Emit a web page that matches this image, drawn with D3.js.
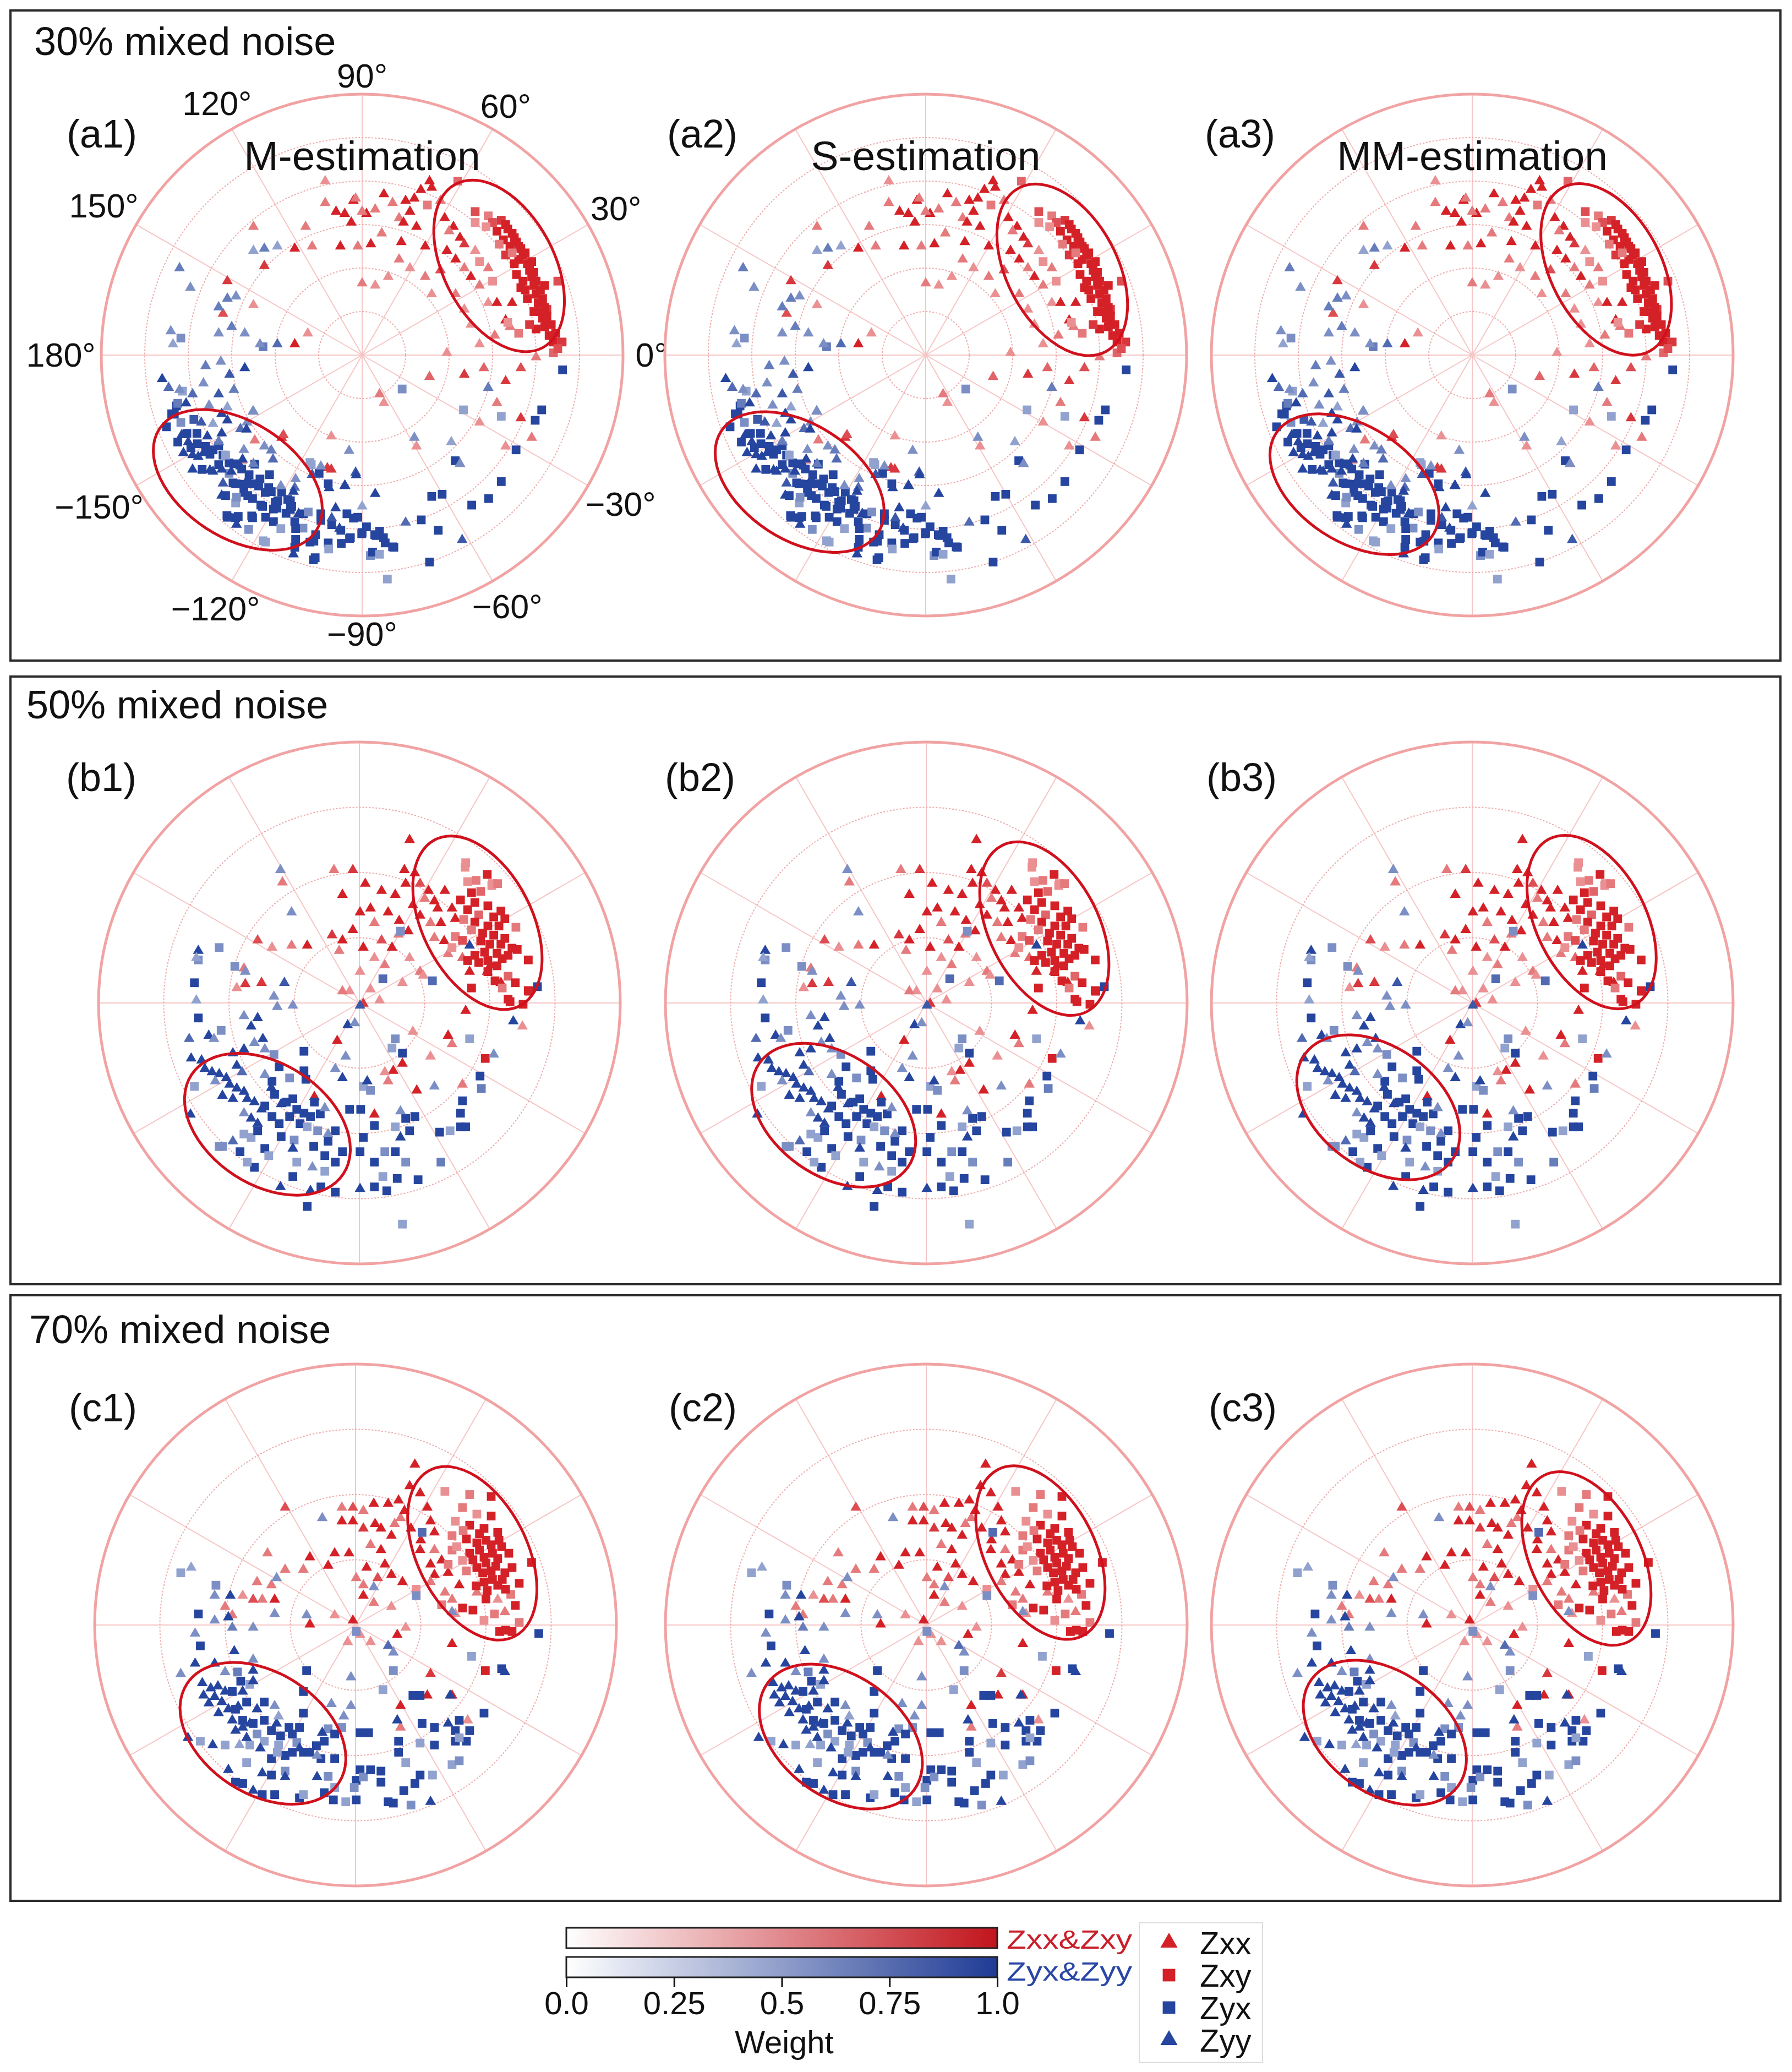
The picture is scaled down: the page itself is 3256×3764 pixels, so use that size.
<!DOCTYPE html>
<html><head><meta charset="utf-8">
<script src="https://cdn.jsdelivr.net/npm/d3@7"></script>
<style>html,body{margin:0;padding:0;background:#fff}</style>
</head><body>
<svg id="c" width="3256" height="3764" xmlns="http://www.w3.org/2000/svg"></svg>
<script>
// ---------------- DATA ----------------
const rowLabels = ["30% mixed noise", "50% mixed noise", "70% mixed noise"];
const methodTitles = ["M-estimation", "S-estimation", "MM-estimation"];
const panelIds = [["(a1)", "(a2)", "(a3)"], ["(b1)", "(b2)", "(b3)"], ["(c1)", "(c2)", "(c3)"]];
const angleTicks = [0, 30, 60, 90, 120, 150, 180, -150, -120, -90, -60, -30];
const ringCounts = [6, 4, 4];
const weightTicks = [0, 0.25, 0.5, 0.75, 1];
const weightTickLabels = ["0.0", "0.25", "0.5", "0.75", "1.0"];
const componentNames = ["Zxx", "Zxy", "Zyx", "Zyy"];
const colorbarLabels = ["Zxx&Zxy", "Zyx&Zyy"];

// points: [Re, Im, weight]  (ring units)
// ---- 30% noise ----
const zxxA = [[1.9,3.15,1],[2.1,2.95,1],[2.25,2.7,1],[2.35,2.55,.9],[1.95,2.4,1],[2.15,2.2,1],[2.35,2.0,.6],[1.8,1.95,.8],[2.5,1.8,1],[2.7,1.6,.6],[2.9,1.2,.5],[3.3,0.8,1],[3.1,1.2,1],[3.45,1.2,1],[2.35,1.05,.5],[2.15,1.4,.6],[2.7,0.25,.5],[3.4,0.65,.6],[1.45,1.8,.6],[1.6,1.4,.5],[4.25,0.8,1],[4.2,1.0,1],
[1.55,4.0,1],[1.6,3.85,1],[1.35,3.8,1],[1.0,3.55,1],[1.1,3.3,1],[0.85,3.15,.6],[0.95,3.05,1],[0.5,3.7,1],[0.3,3.35,.6],[0.1,3.25,1],[-0.2,3.55,1],[-0.4,3.25,1],[-0.25,3.05,1],[-0.85,3.5,.6],[-0.85,4.0,.5],[-1.3,2.95,.6],[-1.55,2.45,1],[-1.15,2.5,.6],[-0.5,2.5,1],[-0.1,2.5,.6],[0.2,2.55,1],[0.45,2.8,.6],[0.9,2.6,1],[1.25,2.95,1],[1.45,2.5,1],[0.85,2.2,.6],[1.1,2.0,.5],[0.6,1.8,.5],[0.3,1.6,.5],[0,1.65,.6],[-1.25,0.5,.5],[-1.55,0.25,1],[0.7,3.5,.6],[1.2,3.6,1],[1.8,3.55,.6],[-0.6,3.3,1],[0.0,3.3,.6],[-0.15,3.6,.6],
[1.95,0.05,.5],[1.55,-0.5,.7],[2.35,-0.45,.9],[2.8,-0.3,.7],[3.3,-0.6,.9],[3.65,-0.3,.8],[4.0,-0.05,.6],[3.1,-1.1,.6],[3.65,-1.45,.9],[3.9,-1.9,.6],[3.3,-2.1,.5],[2.7,-1.55,.5],[2.25,-2.5,.6],[1.25,-2.1,.5],[0.4,-0.9,.6],[0.5,-1.1,.5],[-0.8,-2.6,.9],[-1.85,-1.9,.9],[-2.5,2.95,.6],[-3.1,1.7,.9],[-3.2,0.95,.8],[-2.25,2.05,.9],[-2.5,1.15,.5],
[-2.47,-1.96,.6],[-1.81,-1.84,.8],[-0.71,-1.87,.5],[-0.71,-2.63,.9],[-2.76,-2.43,.5],[2.0,2.85,.6],[2.6,2.4,.5],[2.9,2.0,.6],[3.05,0.45,.6],[2.5,0.7,.5]];
const zxyA = [[2.2,4.0,.7],[1.5,3.45,.6],[2.6,3.3,.8],[2.9,3.2,.6],[3.2,3.1,.9],[3.3,3.0,1],[3.45,2.8,1],[3.55,2.6,1],[3.65,2.45,1],[3.7,2.3,1],[3.8,2.1,1],[3.85,1.95,1],[3.9,1.8,1],[3.95,1.6,1],[4.0,1.4,1],[4.05,1.2,1],[4.1,1.0,1],[4.15,0.85,1],[4.2,0.65,1],[4.3,0.45,1],[4.4,0.3,1],[4.6,0.3,.9],[4.5,1.7,.8],[3.3,2.3,.9],[3.5,2.1,1],[3.7,1.7,1],[3.8,1.3,1],[3.95,1.0,1],[3.6,2.2,1],[3.4,2.5,1],[3.1,2.85,1],[2.7,2.15,.5],[3.0,1.7,.5],[3.6,0.5,.6],[4.0,0.6,1],[4.4,0.05,.7],[3.0,3.05,.8],[3.25,2.65,1],[3.75,1.5,1],[4.25,1.05,.9],[3.35,0.75,.5],[4.2,1.6,1],
[3.35,2.9,1],[3.5,2.7,1],[3.6,2.5,1],[3.75,2.35,1],[3.9,2.15,1],[3.95,1.9,1],[4.0,1.7,1],[4.1,1.5,1],[4.15,1.3,1],[4.2,1.1,1],[4.25,0.9,1],[4.35,0.7,1],[3.55,1.85,1],[3.65,1.55,1],[3.85,0.7,.9],[3.45,2.35,.6],[3.15,2.55,.6],[2.85,2.95,.5],[2.6,3.05,.5],[4.45,0.5,1],[4.5,0.15,.8]];
const zyxA = [[-4.32,-1.36,1],[-4.17,-1.55,.6],[-4.27,-1.17,1],[-4.03,-1.8,1],[-3.79,-2.04,1],[-3.5,-2.28,1],[-3.3,-2.52,1],[-3.06,-2.72,.6],[-2.91,-2.96,1],[-2.72,-3.16,1],[-2.52,-3.3,1],[-2.33,-3.45,1],[-2.04,-3.54,1],[-1.75,-3.64,1],[-1.55,-3.83,1],[-1.36,-3.98,.6],[-1.07,-4.13,1],[-1.12,-4.71,1],[-1.55,-4.42,1],[-0.78,-4.32,1],[-0.49,-4.03,1],[-0.29,-4.22,1],[0,-4.08,1],[0.29,-4.13,1],[0.53,-4.32,1],[0.73,-4.42,1],[0.19,-4.61,.6],[0.58,-5.15,.5],[1.55,-4.76,1],[1.75,-4.03,1],[1.36,-3.79,1],[1.6,-3.25,1],[1.84,-3.2,1],[2.52,-3.45,1],[2.91,-3.3,1],[3.2,-2.91,1],[3.54,-2.18,1],[3.98,-1.5,1],[4.13,-1.26,1],[4.61,-0.34,1],[2.14,-2.43,1],[2.33,-1.26,.5],[3.2,-1.41,.5],[0.92,-0.78,.6],[-2.28,0.19,.7],[-4.17,0.39,.6],[-4.13,-0.83,.5],[-3.3,-2.09,1],[-3.06,-2.48,1],[-2.77,-2.62,1],[-2.52,-2.96,1],[-2.23,-3.16,1],[-1.94,-3.35,1],[-2.52,-3.74,1],[-2.91,-3.74,1],[-3.11,-3.69,1],[-2.28,-4.27,.5],[-2.91,-3.4,.5],[-1.17,-2.52,.5],[-0.78,-2.96,1],[-1.65,-3.35,1],[-2.04,-3.83,1],[-3.8,-1.8,1],[-3.6,-2.1,1],[-3.2,-2.3,1],[-2.9,-2.5,1],[-2.6,-2.75,1],[-2.35,-2.85,1],[-2.15,-3.05,1],[-1.85,-3.15,1],[-1.65,-3.55,1],[-1.35,-3.65,1],[-1.2,-4.3,1],[-0.95,-3.8,1],[-0.2,-3.75,1],[0.1,-3.95,1],[0.4,-4.05,1],
[-4.24,-1.11,.7],[-4.38,-1.35,1],[-4.5,-1.65,1],[-3.87,-1.48,.9],[-4.24,-2.0,1],[-3.94,-2.13,1],[-3.43,-2.18,1],[-3.68,-2.63,1],[-3.14,-2.3,.5],[-2.47,-2.51,1],[-2.13,-2.75,1],[-2.97,-2.94,1],[-2.72,-2.97,1],[-2.38,-3.01,1],[-2.09,-3.14,1],[-3.14,-3.23,1],[-2.89,-3.27,.6],[-2.63,-3.23,1],[-2.29,-3.48,1],[-2.0,-3.39,1],[-1.71,-3.32,1],[-1.62,-3.48,1],[-3.1,-3.73,1],[-2.85,-3.71,1],[-2.54,-3.7,1],[-2.22,-3.73,1],[-1.96,-3.52,1],[-1.87,-3.99,.5],[-2.61,-4.01,.6],[-2.22,-4.3,.5],[-1.53,-3.99,1],[-1.53,-4.24,1],[-1.24,-3.61,.6],[-0.99,-2.72,1],[-1.2,-2.47,.5],[-0.95,-3.65,1],[-0.7,-3.9,1],[-0.35,-3.65,1],[-0.1,-3.73,1],[-0.27,-4.2,1],[-0.01,-4.11,1],[-0.48,-4.33,1],[-1.11,-4.28,1],[-1.08,-4.66,1],[-0.77,-4.46,.5],[0.32,-4.15,1],[0.49,-4.2,1],[0.24,-4.53,1],[0.4,-4.58,.5],[0.7,-4.41,1]];
const zyyA = [[-4.6,-0.55,1],[-4.45,-0.75,.8],[-4.2,-0.8,.6],[-3.9,-0.9,.8],[-3.65,-0.65,.6],[-3.3,-0.9,.9],[-3.05,-0.45,.9],[-2.95,-0.8,.7],[-3.1,-1.5,1],[-2.8,-1.7,.8],[-2.65,-1.55,.6],[-3.7,-1.55,.9],[-4.0,-2.0,1],[-3.9,-2.3,1],[-3.3,-2.0,.9],[-3.5,-2.65,1],[-3.2,-2.95,.9],[-2.75,-2.4,1],[-2.5,-2.5,.7],[-2.25,-2.1,.6],[-2.05,-2.4,.8],[-1.55,-3.05,.8],[-1.15,-2.75,.9],[-0.4,-3.0,1],[-0.15,-2.7,.9],[-0.7,-3.75,.9],[1.0,-3.85,.8],[1.2,-1.9,.6],[2.05,-2.0,.5],[2.9,-0.75,.7],[2.3,-4.25,.9],[2.25,-2.5,.6],
[-4.2,2.0,.7],[-3.95,1.55,.6],[-3.3,1.1,.7],[-3.1,1.3,.7],[-2.9,1.35,.6],[-3.0,0.65,.7],[-2.7,0.5,.6],[-3.6,-0.25,.7],[-3.25,-0.15,.6],[-2.5,2.4,.5],[-2.25,2.45,.7],[-1.95,2.5,.5],[-2.35,0.25,.6],[-1.95,0.25,.8],[-4.4,0.55,.6],[-4.35,0.25,.5],[-3.3,0.5,.6],[-2.7,-0.3,1],[-2.5,-1.3,.7],[-0.3,-2.2,.6],
[-4.05,-1.11,1],[-3.52,-1.16,.6],[-3.1,-1.2,.5],[-2.51,-1.29,.6],[-3.23,-1.35,1],[-3.43,-1.58,.5],[-3.23,-1.8,1],[-2.66,-1.71,1],[-4.15,-1.84,1],[-3.56,-1.87,1],[-3.3,-1.99,.7],[-4.11,-2.25,1],[-3.77,-2.34,1],[-3.65,-2.25,1],[-2.72,-2.18,.6],[-2.09,-2.19,.7],[-3.9,-2.63,1],[-3.43,-2.68,1],[-3.23,-2.63,1],[-3.01,-2.68,1],[-2.8,-2.56,1],[-2.63,-2.85,1],[-3.23,-3.23,1],[-1.87,-3.01,.6],[-1.53,-2.85,.6],[-1.58,-3.14,1],[-1.46,-3.65,1],[-2.89,-3.9,1],[-0.76,-3.06,1],[-0.39,-3.01,1],[-0.14,-2.76,1],[0.3,-3.19,1],[-0.61,-3.52,1],[0,-3.48,.5],[-1.58,-4.58,1],[-0.52,-3.99,1],[-0.95,-2.56,.6]];

// ---- 50% noise ----
const zxxB = [[0.77,2.5,1],[0.69,2.04,1],[0.85,1.99,1],[0.71,1.83,1],[0.93,1.83,.8],[1.06,1.72,1],[1.31,1.72,1],[1.15,1.56,1],[0.82,1.5,1],[0.55,1.66,1],[0.34,1.72,1],[0.09,1.83,1],[-0.1,2.04,.9],[-0.39,2.04,.6],[-0.26,1.66,1],[0.01,1.39,1],[0.17,1.45,1],[0.44,1.39,1],[0.23,1.23,.6],[0.61,1.26,1],[0.93,1.34,1],[1.09,1.23,.6],[1.25,1.23,1],[1.42,1.45,1],[1.47,1.29,1],[1.36,0.75,.6],[1.58,0.69,.7],[1.69,0.48,1],[1.96,0.48,1],[2.17,0.31,1],[2.01,0.58,1],[-0.1,1.12,1],[-0.26,0.96,1],[0.06,0.85,1],[-0.31,0.8,.6],[0.34,0.96,.8],[0.5,0.85,1],[0.23,0.69,.5],[0.39,0.58,.6],[0.77,0.69,.5],[0.93,0.48,.6],[0.01,0.48,.5],[0.17,0.21,.5],[-0.15,0.18,.5],[-0.26,0.18,.6],[0.06,-0.01,.9],[0.31,0.04,.5],[0.66,0.31,.5],[0.98,0.42,.5],[-0.8,0.88,1],[-1.04,0.88,.6],[-1.34,0.85,.5],[-1.56,0.96,.8],[-1.18,1.85,.6],[-0.42,1.04,.9],[-1.77,0.53,.6],[-1.5,0.31,.9],[-1.75,0.29,.9],[-1.88,0.23,.5],[1.63,-0.12,1],[2.5,-0.36,.5],[1.36,-0.5,1],[1.42,-0.63,.6],[1.09,-0.82,.5],[0.82,-0.44,.5],[0.66,-0.93,1],[0.52,-1.04,1],[0.39,-1.06,.5],[0.44,-1.2,.6],[0.88,-1.34,1],[1.58,-1.25,.6],[-0.34,-0.58,1],[0.23,-1.71,1],[-0.69,-1.44,1],[1.2,1.45,1],[1.0,1.6,.6],[0.75,1.1,1],[1.15,1.0,.6],[1.3,0.95,1],[0.6,1.05,.6]];
const zxyB = [[1.62,2.08,.5],[1.96,1.97,1],[1.66,1.86,.5],[2.03,1.8,.5],[1.72,1.69,1],[1.86,1.71,.7],[1.55,1.58,1],[1.77,1.54,1],[1.97,1.49,1],[2.17,1.41,1],[1.66,1.43,1],[1.83,1.35,.7],[2.06,1.32,1],[2.23,1.29,1],[1.6,1.28,.6],[1.77,1.24,1],[1.97,1.18,1],[2.14,1.18,1],[2.4,1.16,.6],[1.72,1.12,.6],[1.89,1.07,1],[2.06,1.04,1],[2.23,0.99,1],[1.86,0.95,1],[2.0,0.9,1],[2.17,0.9,1],[2.34,0.84,1],[2.42,0.82,1],[1.92,0.78,1],[2.11,0.76,1],[2.28,0.73,1],[1.77,0.73,1],[1.66,0.65,1],[1.83,0.62,1],[1.97,0.65,1],[2.19,0.68,1],[2.59,0.66,1],[2.11,0.57,1],[1.97,0.48,1],[2.28,0.41,.7],[2.08,0.34,1],[2.19,0.23,.6],[2.59,0.19,1],[1.72,0.23,1],[2.28,0.06,1],[2.51,-0.02,1],
[1.63,2.15,.5],[1.79,1.88,.6],[2.04,1.83,.5],[1.47,1.02,.6],[1.42,0.85,.5],[1.58,0.96,.8],[2.12,1.83,.6],[1.93,-0.85,1],[2.39,0.31,1],[2.6,0.18,1],[2.31,0.02,1]];
const zyxB = [[-2.53,-1.28,.5],[-2.15,-2.2,.6],[-1.83,-2.28,1],[-1.66,-2.06,.5],[-1.61,-2.52,1],[-1.45,-2.23,1],[-1.39,-2.34,.5],[-1.72,-2.44,.5],[-1.56,-1.96,1],[-1.45,-1.58,1],[-1.34,-1.74,1],[-1.23,-1.85,1],[-1.12,-1.52,1],[-1.02,-1.47,1],[-1.07,-1.74,1],[-0.96,-1.63,1],[-0.91,-1.85,1],[-0.85,-1.69,1],[-0.8,-1.9,.5],[-0.75,-1.74,1],[-0.69,-1.52,1],[-0.64,-1.96,.6],[-0.53,-2.34,1],[-0.48,-2.12,1],[-0.37,-1.96,1],[-0.26,-2.28,1],[-0.37,-2.44,1],[-1.02,-2.66,1],[-0.8,-3.12,1],[-0.59,-2.82,1],[-0.37,-2.9,1],[-0.96,-2.44,.5],[-0.53,-2.58,.5],[-1.34,-1.2,1],[-0.85,-1.04,1],[-0.82,-1.17,1],[-1.23,-0.98,1],[-1.31,-0.79,.6],[-1.07,-1.15,.6],[-0.15,-1.63,1],[0.02,-1.63,1],[0.06,-2.06,1],[0.01,-2.28,1],[0.23,-1.88,1],[0.23,-2.44,1],[0.39,-2.28,.6],[0.55,-2.28,1],[0.58,-2.69,1],[0.42,-2.88,1],[0.23,-2.82,1],[0.36,-2.66,.5],[0.71,-2.44,.6],[0.66,-3.39,.5],[0.9,-2.71,1],[1.25,-2.44,.7],[0.71,-1.77,1],[0.85,-1.74,1],[0.77,-1.96,1],[0.55,-1.9,.5],[1.23,-1.98,1],[1.39,-1.96,.5],[1.55,-1.9,1],[1.63,-1.9,1],[1.55,-1.69,1],[1.58,-1.5,1],[1.85,-1.12,1],[1.87,-1.31,.7],[1.69,-0.55,.5],[2.73,0.25,1],[0.66,-0.77,1],[0.55,-0.55,.6],[0.5,-0.69,.5],[1.12,0.34,.8],[0.36,0.37,.8],[0.63,1.1,.6],[-2.53,0.31,1],[-2.47,-0.23,1],[-2.15,0.85,.6],[-2.47,0.66,.6],[-1.91,0.56,.6],[-2.12,-0.42,.6],[0.06,-1.28,.5],[0.17,-1.34,.6],[-0.85,-0.74,1],[-1.77,-2.01,.5],[-2.1,-2.2,.6],[-1.2,-2.05,1],[-1.0,-2.1,.6],[-0.7,-2.2,1],[-1.3,-1.4,1],[-0.6,-1.7,1]];
const zyyB = [[-2.47,0.8,1],[-2.5,0.69,.5],[-2.5,0.04,.5],[-2.61,-0.55,.8],[-2.58,-0.85,1],[-2.42,-0.88,1],[-2.37,-1.01,1],[-2.26,-1.06,1],[-2.15,-1.09,1],[-2.04,-1.15,1],[-2.21,-1.2,.6],[-1.99,-1.25,1],[-1.88,-1.31,1],[-1.77,-1.36,1],[-1.72,-1.47,1],[-1.61,-1.52,1],[-1.5,-1.63,1],[-1.94,-1.47,1],[-2.1,-1.42,1],[-1.77,-1.69,.6],[-1.66,-1.77,1],[-1.56,-1.85,1],[-1.88,-0.96,1],[-1.8,-1.06,.8],[-1.94,-0.77,1],[-1.77,-0.71,1],[-1.61,-0.61,.6],[-1.66,-0.36,1],[-1.56,-0.23,1],[-1.48,-0.55,1],[-1.45,-0.71,.6],[-2.31,-0.5,1],[-2.23,-0.55,.6],[-1.77,-0.2,.6],[-1.75,0.48,.6],[-1.15,0.31,.9],[-1.02,-0.04,.6],[-1.26,-0.06,.6],[-1.31,0.1,.6],[-1.21,2.04,.6],[-1.04,1.39,.6],[0.01,-0.04,.9],[-0.18,-0.34,1],[-0.07,-0.31,.6],[-0.21,-0.82,.6],[-0.37,-1.01,.6],[-0.26,-1.15,1],[0.12,-1.2,1],[-0.53,-1.61,.6],[-0.48,-2.01,.6],[-0.72,-2.52,.6],[-1.21,-2.82,1],[-0.75,-2.88,1],[0.01,-2.85,1],[0.63,-1.66,.6],[0.63,-2.06,1],[1.15,-1.28,.6],[2.36,-0.28,1],[2.06,-0.79,.6],[1.69,0.88,1],[-2.59,-1.71,1],[-1.94,-2.12,.8],[-1.02,-2.23,1],[-1.35,-1.3,1],[-1.2,-1.55,1],[-1.45,-1.1,.6]];

// ---- 70% noise ----
const zxxC = [[0.91,2.46,1],[0.83,2.13,1],[0.99,2.02,1],[0.66,1.91,1],[0.5,1.86,1],[0.28,1.86,1],[0.12,1.75,.6],[-0.04,1.8,.8],[-0.21,1.8,.6],[-1.08,1.8,.8],[0.69,1.64,.6],[0.85,1.48,1],[1.1,1.8,1],[1.15,1.59,1],[1.21,1.42,1],[0.99,1.15,1],[1.21,1.15,.6],[1.32,0.99,1],[1.15,0.93,1],[1.21,0.77,1],[1.42,0.8,1],[1.37,0.5,.6],[1.15,0.66,.6],[1.48,0.39,.6],[1.53,0.17,.5],[1.59,0.61,1],[1.86,0.5,.6],[2.29,0.2,.6],[2.18,0.39,.5],[-0.21,1.59,1],[-0.04,1.59,1],[0.12,1.48,.9],[0.39,1.48,1],[0.55,1.37,1],[0.39,1.15,1],[0.23,1.23,.6],[0.45,0.93,1],[0.17,0.88,1],[-0.1,1.1,1],[-0.32,1.1,1],[-0.7,1.04,1],[-0.42,0.91,1],[-0.8,0.85,.6],[-1.08,0.85,.6],[-1.35,1.1,.6],[0.01,0.72,.6],[0.12,0.61,.6],[0.34,0.72,.8],[0.55,0.77,1],[0.72,0.66,1],[0.12,0.45,1],[0.28,0.34,.6],[0.55,0.28,.5],[-0.32,0.15,.5],[-0.7,0.01,1],[-0.04,0.07,1],[0.07,-0.15,.5],[0.23,-0.26,.5],[-0.12,-0.26,.5],[0.64,-0.15,1],[0.77,-0.04,.5],[-1.51,0.66,.6],[-1.29,0.61,.6],[-1.24,0.39,1],[-1.43,0.39,.6],[-1.57,0.39,.8],[-1.73,0.45,.5],[-1.89,0.15,.6],[-2.0,0.28,.6],[1.48,-0.29,1],[1.15,-0.75,.9],[1.1,-1.08,1],[0.69,-1.24,1],[0.69,-1.57,.6],[1.72,-1.46,.5],[1.48,-1.08,1],[0.75,1.75,1],[0.6,1.55,.6],[1.0,1.3,1],[0.3,1.55,1]];
const zxyC = [[1.37,2.05,.5],[1.75,2.0,.6],[2.08,1.97,1],[1.64,1.8,.6],[1.86,1.7,.5],[2.08,1.67,1],[1.53,1.59,.5],[1.75,1.53,1],[1.97,1.48,1],[2.18,1.42,1],[1.48,1.37,.6],[1.7,1.32,1],[1.86,1.26,1],[2.08,1.23,1],[1.75,1.1,1],[1.97,1.04,1],[2.18,1.02,1],[2.35,1.1,1],[1.86,0.88,1],[2.08,0.83,1],[2.29,0.8,1],[2.7,0.96,1],[1.7,0.83,.6],[1.97,0.66,1],[2.18,0.61,1],[2.51,0.64,1],[2.38,0.47,.6],[2.02,0.53,1],[1.64,0.26,1],[1.8,0.23,1],[1.32,0.31,.6],[2.13,0.17,.6],[1.97,0.07,.5],[2.51,0.04,.6],[2.21,-0.1,1],[2.4,-0.1,1],[1.99,-0.7,1],[2.24,1.2,1],[2.4,0.88,1],[1.48,1.15,.6],[1.64,0.99,.5],[1.42,0.93,.6],[0.93,0.55,.5],
[1.9,1.4,1],[2.0,1.3,1],[2.1,1.1,1],[1.9,1.15,1],[2.0,0.95,1],[2.15,0.9,1],[1.95,0.8,1],[2.1,0.7,1],[2.25,0.7,1],[2.3,0.55,1],[2.0,0.4,1],[1.85,0.6,1],[1.8,1.0,1],[2.2,1.3,1],[1.65,1.45,.6],[1.55,1.2,.5],[2.3,-0.08,1],[2.45,0.3,1]];
const zyxC = [[-2.68,0.8,.5],[-2.14,0.61,.6],[-2.41,0.17,1],[-2.38,-0.32,1],[-1.81,-0.72,.7],[-1.76,-0.86,1],[-1.62,-0.91,.5],[-1.89,-1.02,1],[-1.67,-1.18,1],[-1.4,-1.18,1],[-1.84,-1.29,1],[-1.73,-1.46,1],[-1.57,-1.51,1],[-1.4,-1.46,1],[-1.29,-1.62,1],[-1.51,-1.67,.6],[-1.4,-1.78,.5],[-1.62,-1.84,.5],[-1.18,-1.84,.5],[-1.02,-1.57,1],[-0.97,-1.67,1],[-0.86,-1.57,1],[-0.8,-1.35,1],[-0.97,-1.95,1],[-0.8,-1.95,1],[-1.08,-2.0,1],[-1.29,-2.05,1],[-1.67,-2.11,.5],[-1.08,-2.24,.6],[-1.29,-2.3,1],[-1.84,-2.41,1],[-1.73,-2.43,1],[-1.43,-2.6,1],[-1.24,-2.6,1],[-0.86,-2.65,1],[-0.8,-2.6,.5],[-0.7,-1.95,1],[-0.53,-2.05,1],[-0.48,-1.78,1],[-0.42,-1.59,.6],[-0.21,-1.57,.6],[-0.32,-1.67,1],[-0.32,-2.05,1],[-0.42,-2.32,.6],[-0.32,-2.49,.5],[-0.48,-2.57,1],[-0.34,-2.68,1],[-0.15,-2.71,.5],[0.01,-2.68,1],[0.01,-2.38,1],[0.07,-2.22,1],[0.12,-2.33,.6],[0.23,-2.22,1],[0.39,-2.24,1],[0.07,-1.65,1],[0.2,-1.65,1],[0.39,-2.41,1],[-0.02,-2.49,.6],[0.5,-2.71,1],[0.58,-2.73,1],[0.74,-2.54,1],[0.91,-2.43,1],[0.99,-2.3,1],[1.18,-2.3,.5],[0.66,-1.95,1],[0.77,-2.11,.5],[0.66,-1.78,1],[0.99,-1.81,.5],[1.21,-1.84,1],[1.02,-1.51,1],[1.21,-1.57,1],[1.53,-1.62,1],[1.53,-1.78,1],[1.7,-1.78,1],[1.59,-1.46,1],[1.75,-1.62,1],[1.97,-1.35,1],[1.48,-2.14,.5],[1.59,-2.08,.6],[0.88,-1.08,1],[0.99,-1.08,1],[0.42,-0.99,.5],[0.58,-0.7,.6],[-0.75,-0.7,1],[-0.8,-1.02,1],[1.78,-0.48,.5],[2.24,-0.67,1],[2.81,-0.13,1],[0.93,0.45,.6],[0.01,-0.1,.6],[1.02,1.42,.8],[-2.38,-1.78,.5],[-2.0,-1.84,.5],[0.85,-2.76,.6],[1.59,-1.73,.5],[-1.15,-1.7,1],[-0.9,-1.8,.6],[-1.2,-1.95,.5],[-0.6,-1.85,1]];
const zyyC = [[-2.52,0.88,.5],[-2.16,0.45,.6],[-1.92,0.45,1],[-2.16,0.07,.6],[-1.89,-0.04,.7],[-1.57,-0.04,.6],[-1.95,0.12,1],[-2.46,-0.13,.6],[-1.86,-0.4,1],[-2.46,-0.59,1],[-2.68,-0.75,.6],[-2.16,-0.59,1],[-1.57,-0.53,.6],[-2.0,-0.72,.6],[-2.35,-0.89,1],[-2.22,-0.97,1],[-2.11,-0.94,1],[-2.33,-1.08,1],[-2.16,-1.1,1],[-2.0,-1.02,1],[-2.05,-1.18,1],[-1.95,-1.29,1],[-1.89,-1.46,1],[-1.73,-1.57,1],[-1.62,-1.51,1],[-1.51,-1.29,1],[-1.57,-0.7,1],[-1.57,-0.86,1],[-1.73,-1.02,1],[-1.84,-1.62,1],[-1.67,-1.73,1],[-1.46,-1.89,1],[-1.78,-1.84,.5],[-2.57,-1.73,1],[-2.19,-1.84,1],[-1.95,-2.22,1],[-1.57,-2.54,1],[-1.43,-2.27,1],[-1.21,-1.51,1],[-1.24,-1.24,.6],[-1.18,-1.4,.5],[-0.86,-1.89,1],[-0.51,-1.65,1],[-0.59,-2.0,.6],[-0.59,-2.33,1],[-1.08,-2.33,1],[-0.37,-1.21,.6],[-0.07,-1.24,.6],[-0.18,-1.4,.6],[-0.07,-0.8,.6],[0.5,-0.32,.8],[0.58,-0.42,.6],[-0.51,1.64,.6],[-1.21,0.72,.6],[-1.24,0.17,.6],[-0.75,0.15,.6],[0.28,0.58,.6],[1.48,0.2,.6],[1.45,-1.08,1],[2.29,-0.72,1],[1.15,-2.71,1],[1.42,-1.51,1],[0.64,-1.46,1],[-2.25,-1.2,1],[-2.1,-1.35,1],[-1.8,-1.25,1]];

// highlight ellipses per panel: [centerRe, centerIm, semiMajor, semiMinor, tiltDeg]
const ellRedA = [[3.15,2.05,2.13,1.27,62],[3.14,1.96,2.13,1.27,62],[3.08,1.97,2.13,1.27,62]];
const ellBlueA = [[-2.86,-2.87,2.15,1.33,33],[-2.9,-2.92,2.15,1.33,33],[-2.71,-2.97,2.15,1.33,33]];
const ellRedB = [[1.81,1.23,1.43,0.84,63],[1.81,1.14,1.43,0.84,63],[1.83,1.24,1.43,0.84,63]];
const ellBlueB = [[-1.41,-1.86,1.39,0.93,33],[-1.42,-1.72,1.39,0.93,35],[-1.44,-1.6,1.39,0.93,36]];
const ellRedC = [[1.79,1.1,1.43,0.84,63],[1.75,1.11,1.43,0.84,63],[1.75,1.02,1.43,0.84,63]];
const ellBlueC = [[-1.42,-1.66,1.39,0.93,33],[-1.31,-1.71,1.39,0.93,36],[-1.34,-1.65,1.39,0.93,36]];

// ---------------- LAYOUT / DRAW ----------------
const rows = [
  {zxx: zxxA, zxy: zxyA, zyx: zyxA, zyy: zyyA, red: ellRedA, blue: ellBlueA},
  {zxx: zxxB, zxy: zxyB, zyx: zyxB, zyy: zyyB, red: ellRedB, blue: ellBlueB},
  {zxx: zxxC, zxy: zxyC, zyx: zyxC, zyy: zyyC, red: ellRedC, blue: ellBlueC}
];
const FONT = '"Liberation Sans", Arial, Helvetica, sans-serif';
const svg = d3.select("#c").style("font-family", FONT);
svg.append("rect").attr("width", 3256).attr("height", 3764).attr("fill", "#fff");

const R = 474;
const centers = [
  [[658, 645], [1682, 645], [2675, 645]],
  [[653, 1822], [1683, 1822], [2675, 1822]],
  [[646, 2952], [1683, 2952], [2675, 2952]]
];
const boxes = [[19, 19, 3235, 1200], [19, 1229, 3235, 2333], [19, 2353, 3235, 3453]];
const rowLabelPos = [[62, 100], [48, 1305], [53, 2440]];
const idX = [[121, 1212, 2189], [120, 1208, 2192], [125, 1215, 2196]];
const idY = [268, 1437, 2582];

const redCol = d3.scaleLinear().domain([0, 1]).range(["#ffffff", "#d42127"]).interpolate(d3.interpolateRgb);
const blueCol = d3.scaleLinear().domain([0, 1]).range(["#ffffff", "#25459f"]).interpolate(d3.interpolateRgb);
const sq = d3.symbol().type(d3.symbolSquare).size(250);
const tri = d3.symbol().type(d3.symbolTriangle).size(165);

// frames + row labels
boxes.forEach((b, i) => {
  svg.append("rect").attr("x", b[0]).attr("y", b[1]).attr("width", b[2] - b[0]).attr("height", b[3] - b[1])
    .attr("fill", "none").attr("stroke", "#2b2b2b").attr("stroke-width", 4);
  svg.append("text").attr("x", rowLabelPos[i][0]).attr("y", rowLabelPos[i][1])
    .attr("font-size", 72).attr("fill", "#111").text(rowLabels[i]);
});

rows.forEach((row, ri) => {
  const n = ringCounts[ri];
  centers[ri].forEach(([cx, cy], ci) => {
    const g = svg.append("g");
    const rs = d3.scaleLinear().domain([0, n]).range([0, R]);
    const xs = d3.scaleLinear().domain([-n, n]).range([cx - R, cx + R]);
    const ys = d3.scaleLinear().domain([-n, n]).range([cy + R, cy - R]);
    // radial lines
    d3.range(0, 360, 30).forEach(a => {
      const t = a * Math.PI / 180;
      g.append("line").attr("x1", cx).attr("y1", cy)
        .attr("x2", cx + rs(n) * Math.cos(t)).attr("y2", cy - rs(n) * Math.sin(t))
        .attr("stroke", "#f6c6c6").attr("stroke-width", 2);
    });
    // rings
    d3.range(1, n).forEach(k => {
      g.append("circle").attr("cx", cx).attr("cy", cy).attr("r", rs(k))
        .attr("fill", "none").attr("stroke", "#eeaaaa").attr("stroke-width", 2).attr("stroke-dasharray", "3,3");
    });
    g.append("circle").attr("cx", cx).attr("cy", cy).attr("r", rs(n))
      .attr("fill", "none").attr("stroke", "#f1a3a3").attr("stroke-width", 5);

    // points
    const layer = (data, gen, col) => g.append("g").selectAll("path").data(data).join("path")
      .attr("d", gen).attr("transform", d => `translate(${xs(d[0])},${ys(d[1])})`)
      .attr("fill", d => col(d[2]));
    layer(row.zxx, tri, redCol);
    layer(row.zxy, sq, redCol);
    layer(row.zyx, sq, blueCol);
    layer(row.zyy, tri, blueCol);

    // ellipses
    [row.red[ci], row.blue[ci]].forEach(e => {
      const ex = xs(e[0]), ey = ys(e[1]);
      g.append("ellipse").attr("cx", ex).attr("cy", ey).attr("rx", rs(e[2])).attr("ry", rs(e[3]))
        .attr("transform", `rotate(${e[4]},${ex},${ey})`)
        .attr("fill", "none").attr("stroke", "#d0111d").attr("stroke-width", 5);
    });

    // panel id
    svg.append("text").attr("x", idX[ri][ci]).attr("y", idY[ri]).attr("font-size", 72)
      .attr("fill", "#111").text(panelIds[ri][ci]);
    // method title (top row)
    if (ri === 0) {
      svg.append("text").attr("x", cx).attr("y", 309).attr("text-anchor", "middle")
        .attr("font-size", 75).attr("fill", "#111").text(methodTitles[ci]);
    }
    // angle labels (first panel only)
    if (ri === 0 && ci === 0) {
      angleTicks.forEach(a => {
        const t = a * Math.PI / 180;
        const label = (a < 0 ? "\u2212" + (-a) : a) + "\u00b0";
        const tx = svg.append("text").attr("font-size", 61).attr("fill", "#111")
          .attr("text-anchor", "middle").attr("dominant-baseline", "central").text(label);
        const w = tx.node().getComputedTextLength();
        const rr = R + 33 + 0.32 * w * Math.abs(Math.cos(t));
        tx.attr("x", cx + rr * Math.cos(t)).attr("y", cy - rr * Math.sin(t));
      });
    }
  });
});

// ---------------- COLORBAR LEGEND ----------------
const defs = svg.append("defs");
[["gr", "#c2141c"], ["gb", "#1f3b95"]].forEach(([id, c]) => {
  const lg = defs.append("linearGradient").attr("id", id);
  lg.append("stop").attr("offset", "0%").attr("stop-color", "#ffffff");
  lg.append("stop").attr("offset", "100%").attr("stop-color", c);
});
const wx = d3.scaleLinear().domain([0, 1]).range([1029, 1812]);
const bars = [[3502, "gr", "#c8202a", 3540], [3555, "gb", "#2a46a6", 3598]];
bars.forEach(([y, id, tc, by], i) => {
  svg.append("rect").attr("x", wx(0)).attr("y", y).attr("width", wx(1) - wx(0)).attr("height", 37)
    .attr("fill", `url(#${id})`).attr("stroke", "#222").attr("stroke-width", 3);
  svg.append("text").attr("x", 1829).attr("y", by).attr("font-size", 49).attr("fill", tc)
    .attr("textLength", 228).attr("lengthAdjust", "spacingAndGlyphs").text(colorbarLabels[i]);
});
const ax = svg.append("g").attr("transform", "translate(0,3592)")
  .call(d3.axisBottom(wx).tickValues(weightTicks).tickFormat((d, i) => weightTickLabels[i]).tickSize(18).tickPadding(8));
ax.select(".domain").remove();
ax.selectAll("line").attr("stroke", "#111").attr("stroke-width", 3);
ax.selectAll("text").attr("font-size", 58).attr("font-family", FONT).attr("fill", "#111");
svg.append("text").attr("x", 1425).attr("y", 3730).attr("text-anchor", "middle").attr("font-size", 58).attr("fill", "#111").text("Weight");

// symbol legend
svg.append("rect").attr("x", 2070).attr("y", 3493).attr("width", 224).attr("height", 254)
  .attr("fill", "#fff").attr("stroke", "#dddddd").attr("stroke-width", 2);
const legSyms = [d3.symbolTriangle, d3.symbolSquare, d3.symbolSquare, d3.symbolTriangle];
const legCols = [redCol(1), redCol(1), blueCol(1), blueCol(1)];
const legY = [3529, 3588, 3647, 3706];
componentNames.forEach((nm, i) => {
  svg.append("path").attr("d", d3.symbol().type(legSyms[i]).size(legSyms[i] === d3.symbolSquare ? 520 : 420)())
    .attr("transform", `translate(2124,${legY[i]})`).attr("fill", legCols[i]);
  svg.append("text").attr("x", 2180).attr("y", legY[i] + 21).attr("font-size", 58).attr("fill", "#111").text(nm);
});
</script>
</body></html>
